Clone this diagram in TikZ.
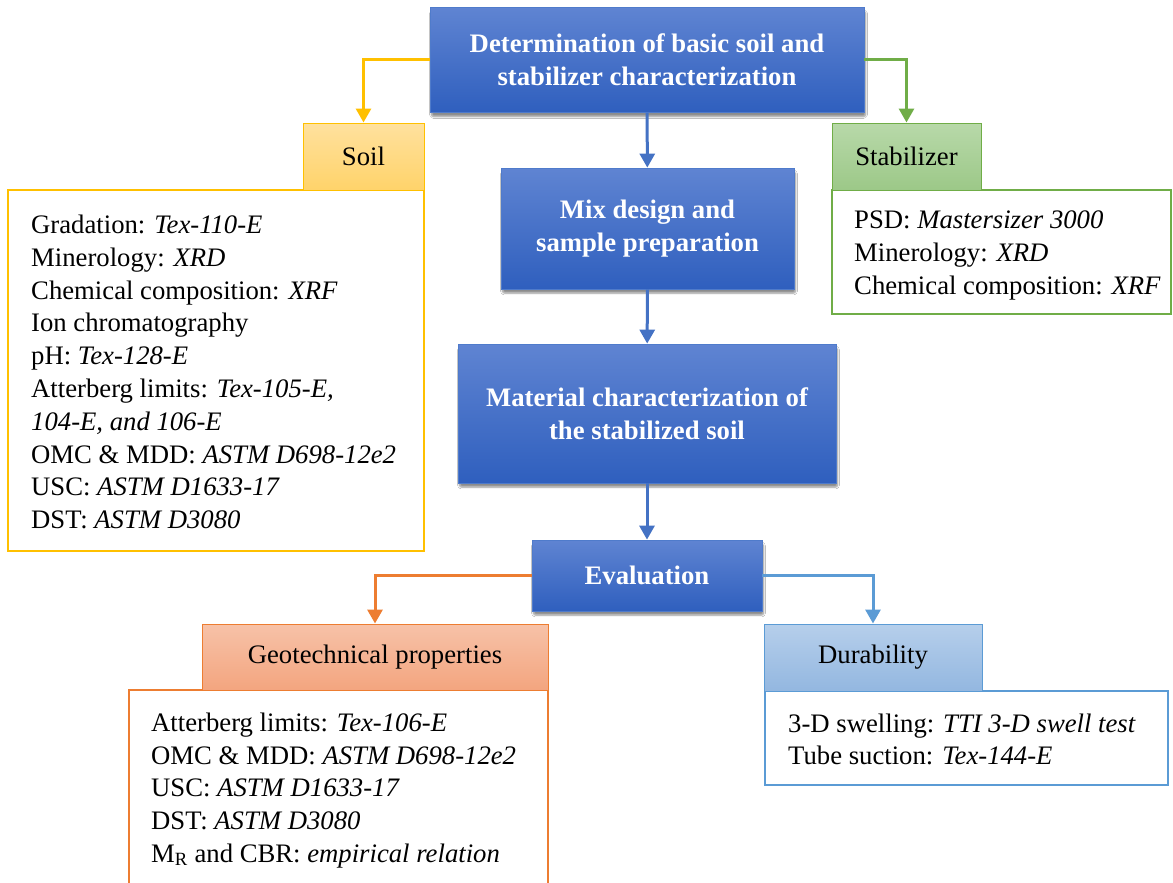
\documentclass[tikz,border=0pt]{standalone}
\usepackage{fontspec}
\setmainfont{Liberation Serif}
\usetikzlibrary{arrows.meta,shadows,shadows.blur}
\definecolor{soilc}{HTML}{FFC000}
\definecolor{soiltop}{HTML}{FFE19E}
\definecolor{soilbot}{HTML}{FFD36A}
\definecolor{stabc}{HTML}{70AD47}
\definecolor{stabtop}{HTML}{B8D9A9}
\definecolor{stabbot}{HTML}{9CC888}
\definecolor{geoc}{HTML}{ED7D31}
\definecolor{geotop}{HTML}{F7C2A8}
\definecolor{geobot}{HTML}{F3A57F}
\definecolor{durc}{HTML}{5B9BD5}
\definecolor{durtop}{HTML}{B6CFEB}
\definecolor{durbot}{HTML}{93B7E0}
\definecolor{bluec}{HTML}{4472C4}
\definecolor{bluetop}{HTML}{5F84D2}
\definecolor{bluebot}{HTML}{2F5FBE}
\definecolor{blueedge}{HTML}{4F7BCB}
\tikzset{
  fnt/.style={font=\fontsize{26.7}{33}\selectfont},
  bluebox/.style={draw=blueedge, line width=0.8pt, top color=bluetop, bottom color=bluebot,
    text=white, font=\fontsize{26.7}{33}\selectfont\bfseries, align=center, inner sep=0pt,
    blur shadow={shadow blur steps=6, shadow blur extra rounding=2pt, shadow xshift=1.5pt, shadow yshift=-4pt, shadow opacity=45}},
  hdr/.style={fnt, inner sep=0pt, line width=1pt},
  content/.style={draw, fill=white, line width=2pt, inner sep=0pt},
  txt/.style={fnt, anchor=base west, inner sep=0pt},
  conn/.style={line width=3pt, -{Triangle[width=15pt,length=14pt]}},
}
\begin{document}
\begin{tikzpicture}[x=1pt,y=-1pt]
\useasboundingbox (0,0) rectangle (1173,883);
\clip (0,0) rectangle (1173,883);
\fill[white] (0,0) rectangle (1173,883);

% central blue boxes
\node[bluebox, minimum width=434pt, minimum height=105pt] (top) at (647,60)
  {Determination of basic soil and\\stabilizer characterization};
\node[bluebox, minimum width=293pt, minimum height=121pt] (mix) at (647.5,228.5)
  {Mix design and\\sample preparation};
\node[bluebox, minimum width=378pt, minimum height=139pt] (mat) at (647,413.5)
  {Material characterization of\\the stabilized soil};
\node[bluebox, minimum width=230pt, minimum height=71pt] (eval) at (647,575.5)
  {Evaluation};

% content boxes
\node[content, draw=soilc, minimum width=416pt, minimum height=361pt] (soilbox) at (216,370.5) {};
\node[content, draw=stabc, minimum width=339pt, minimum height=124pt] (stabbox) at (1001.5,252) {};
\node[content, draw=geoc, minimum width=419pt, minimum height=200pt] (geobox) at (338.5,790) {};
\node[content, draw=durc, minimum width=403pt, minimum height=94pt] (durbox) at (966.5,738) {};

% headers
\node[hdr, draw=soilc, top color=soiltop, bottom color=soilbot, minimum width=121pt, minimum height=67pt] (soilh) at (363.5,156.5) {Soil};
\node[hdr, draw=stabc, top color=stabtop, bottom color=stabbot, minimum width=149pt, minimum height=67pt] (stabh) at (906.5,156.5) {Stabilizer};
\node[hdr, draw=geoc, top color=geotop, bottom color=geobot, minimum width=346pt, minimum height=66pt] (geoh) at (375,657) {Geotechnical properties};
\node[hdr, draw=durc, top color=durtop, bottom color=durbot, minimum width=218pt, minimum height=67pt] (durh) at (873,657.5) {Durability};

% soil text
\node[txt] (s1) at (31,233) {Gradation: \textit{Tex-110-E}};
\node[txt] (s2) at (31,266) {Minerology: \textit{XRD}};
\node[txt] (s3) at (31,299) {Chemical composition: \textit{XRF}};
\node[txt] (s4) at (31,331) {Ion chromatography};
\node[txt] (s5) at (31,364) {pH: \textit{Tex-128-E}};
\node[txt] (s6) at (31,397) {Atterberg limits: \textit{Tex-105-E,}};
\node[txt] (s7) at (31,430) {\textit{104-E, and 106-E}};
\node[txt] (s8) at (31,463) {OMC \& MDD: \textit{ASTM D698-12e2}};
\node[txt] (s9) at (31,495) {USC: \textit{ASTM D1633-17}};
\node[txt] (s10) at (31,528) {DST: \textit{ASTM D3080}};

% stabilizer text
\node[txt] (t1) at (854,228) {PSD: \textit{Mastersizer 3000}};
\node[txt] (t2) at (854,261) {Minerology: \textit{XRD}};
\node[txt] (t3) at (854,294) {Chemical composition: \textit{XRF}};

% geotechnical text
\node[txt] (g1) at (151,731) {Atterberg limits: \textit{Tex-106-E}};
\node[txt] (g2) at (151,764) {OMC \& MDD: \textit{ASTM D698-12e2}};
\node[txt] (g3) at (151,796) {USC: \textit{ASTM D1633-17}};
\node[txt] (g4) at (151,829) {DST: \textit{ASTM D3080}};
\node[txt] (g5) at (151,862) {M\textsubscript{R} and CBR: \textit{empirical relation}};

% durability text
\node[txt] (d1) at (788,732) {3-D swelling: \textit{TTI 3-D swell test}};
\node[txt] (d2) at (788,764) {Tube suction: \textit{Tex-144-E}};

% connectors
\draw[conn, bluec] (top) -- (mix);
\draw[conn, bluec] (mix) -- (mat);
\draw[conn, bluec] (mat) -- (eval);
\draw[conn, soilc] (top.west) -| (soilh.north);
\draw[conn, stabc] (top.east) -| (stabh.north);
\draw[conn, geoc] (eval.west) -| (geoh.north);
\draw[conn, durc] (eval.east) -| (durh.north);
\end{tikzpicture}
\end{document}
